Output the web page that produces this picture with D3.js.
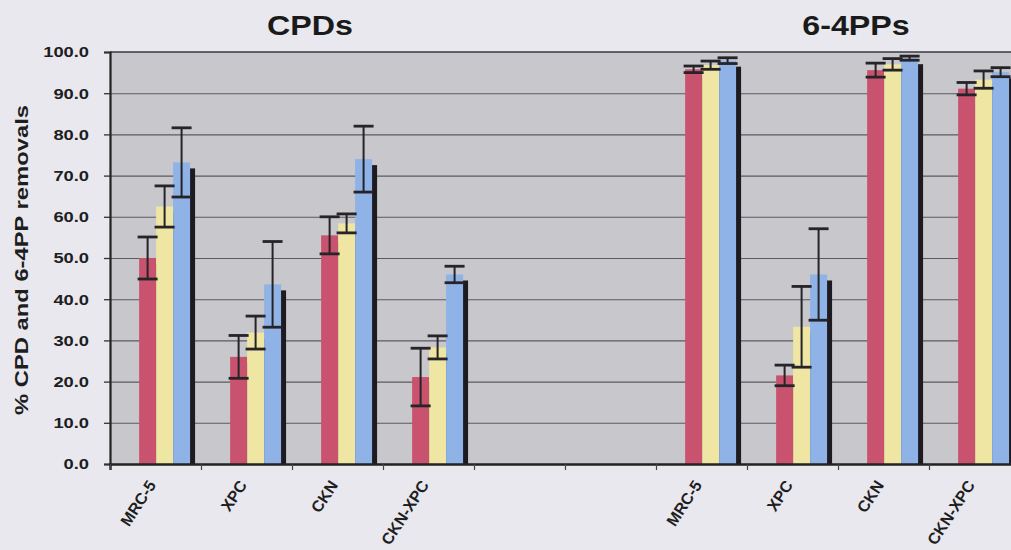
<!DOCTYPE html>
<html>
<head>
<meta charset="utf-8">
<script src="https://cdn.jsdelivr.net/npm/d3@7"></script>
<style>
  html, body { margin: 0; padding: 0; background: #e8e8ee; }
  svg { display: block; }
  text { font-family: "Liberation Sans", Arial, sans-serif; }
</style>
</head>
<body>
<svg id="chart" width="1011" height="550"></svg>
<script>
// Panel titles and cell lines
const panels = ["CPDs", "6-4PPs"];
const cellLines = ["MRC-5", "XPC", "CKN", "CKN-XPC"];
// Ten slots along the x axis: CPDs, two empty slots, then 6-4PPs
const slotLabels = ["MRC-5", "XPC", "CKN", "CKN-XPC", "", "", "MRC-5", "XPC", "CKN", "CKN-XPC"];
const panelSlots = [[0, 1, 2, 3], [6, 7, 8, 9]];

const seriesKeys = ["red", "yellow", "blue"];
const seriesColors = ["#c9536f", "#eee6a2", "#8fb3e6"];

// % removal, CPDs
const cpdRed = [50.0, 26.0, 55.5, 21.1];
const cpdRedErr = [5.1, 5.2, 4.5, 7.0];
const cpdYellow = [62.5, 31.9, 58.4, 28.3];
const cpdYellowErr = [5.0, 4.0, 2.3, 2.8];
const cpdBlue = [73.2, 43.6, 74.0, 46.0];
const cpdBlueErr = [8.4, 10.4, 8.0, 2.0];

// % removal, 6-4PPs
const ppRed = [95.8, 21.5, 95.6, 91.1];
const ppRedErr = [0.8, 2.5, 1.7, 1.5];
const ppYellow = [96.8, 33.3, 97.0, 93.3];
const ppYellowErr = [1.0, 9.8, 1.4, 2.1];
const ppBlue = [97.9, 46.0, 98.5, 95.1];
const ppBlueErr = [0.7, 11.1, 0.5, 1.1];

const yTicks = [0, 10, 20, 30, 40, 50, 60, 70, 80, 90, 100];
const yTitle = "% CPD and 6-4PP removals";

// Build flat records for drawing
const panelData = [
  { values: [cpdRed, cpdYellow, cpdBlue], errors: [cpdRedErr, cpdYellowErr, cpdBlueErr] },
  { values: [ppRed, ppYellow, ppBlue], errors: [ppRedErr, ppYellowErr, ppBlueErr] }
];
const records = [];
panelData.forEach((p, pi) => {
  cellLines.forEach((c, ci) => {
    seriesKeys.forEach((k, si) => {
      records.push({ slot: panelSlots[pi][ci], key: k, si, value: p.values[si][ci], err: p.errors[si][ci] });
    });
  });
});

const svg = d3.select("#chart");
const W = 1011, H = 550;
const plot = { left: 110, right: 1020, top: 52, bottom: 464 };

const x = d3.scaleBand().domain(d3.range(slotLabels.length)).range([plot.left, plot.right]).padding(0);
const xs = d3.scaleBand().domain(seriesKeys).range([x.bandwidth() * 0.32, x.bandwidth() * 0.88]).padding(0);
const y = d3.scaleLinear().domain([0, 100]).range([plot.bottom, plot.top]);
const color = d3.scaleOrdinal().domain(seriesKeys).range(seriesColors);

// page
svg.append("rect").attr("width", W).attr("height", H).attr("fill", "#e8e8ee");

// plot area
svg.append("rect")
  .attr("x", plot.left).attr("y", plot.top)
  .attr("width", plot.right - plot.left).attr("height", plot.bottom - plot.top)
  .attr("fill", "#c7c7cc");

// gridlines
svg.append("g")
  .selectAll("line")
  .data(yTicks.filter(t => t > 0 && t < 100))
  .join("line")
  .attr("x1", plot.left).attr("x2", plot.right)
  .attr("y1", d => y(d) + 0.5).attr("y2", d => y(d) + 0.5)
  .attr("stroke", "#5a5a60").attr("stroke-width", 1.1);

// bar shadows
const shadowDx = 5, shadowDy = 6;
svg.append("g")
  .selectAll("rect")
  .data(records)
  .join("rect")
  .attr("x", d => x(d.slot) + xs(d.key) + shadowDx)
  .attr("y", d => y(d.value) + shadowDy)
  .attr("width", xs.bandwidth())
  .attr("height", d => Math.max(0, y(0) - y(d.value) - shadowDy))
  .attr("fill", "#1d1b20");

// bars
svg.append("g")
  .selectAll("rect")
  .data(records)
  .join("rect")
  .attr("x", d => x(d.slot) + xs(d.key))
  .attr("y", d => y(d.value))
  .attr("width", xs.bandwidth())
  .attr("height", d => y(0) - y(d.value))
  .attr("fill", d => color(d.key));

// error bars
const eb = svg.append("g").attr("stroke", "#262428").attr("fill", "none");
const capHalf = 10;
records.forEach(d => {
  const cx = x(d.slot) + xs(d.key) + xs.bandwidth() / 2;
  const yHi = y(d.value + d.err), yLo = y(d.value - d.err);
  eb.append("line").attr("x1", cx).attr("x2", cx).attr("y1", yHi).attr("y2", yLo).attr("stroke-width", 2);
  eb.append("line").attr("x1", cx - capHalf).attr("x2", cx + capHalf).attr("y1", yHi).attr("y2", yHi).attr("stroke-width", 2.8);
  eb.append("line").attr("x1", cx - capHalf).attr("x2", cx + capHalf).attr("y1", yLo).attr("y2", yLo).attr("stroke-width", 2.8);
});

// top frame line
svg.append("line").attr("x1", plot.left).attr("x2", plot.right)
  .attr("y1", plot.top).attr("y2", plot.top).attr("stroke", "#3a3a3e").attr("stroke-width", 1.6);

// y axis
const yAxis = svg.append("g")
  .attr("transform", `translate(${plot.left},0)`)
  .call(d3.axisLeft(y).tickValues(yTicks).tickFormat(d3.format(".1f")).tickSize(6).tickPadding(15));
yAxis.select(".domain").attr("stroke", "#222").attr("stroke-width", 2.2);
yAxis.selectAll(".tick line").attr("stroke", "#333").attr("stroke-width", 1.3);
yAxis.selectAll(".tick text")
  .attr("fill", "#1e1e1e")
  .style("font-size", "15px").style("font-weight", "bold")
  .each(function () {
    const n = this.getComputedTextLength();
    d3.select(this).attr("textLength", n * 1.22).attr("lengthAdjust", "spacingAndGlyphs");
  });

// x axis (ticks at slot boundaries)
const xb = d3.scaleLinear().domain([0, slotLabels.length]).range([plot.left, plot.right]);
const xAxis = svg.append("g")
  .attr("transform", `translate(0,${plot.bottom})`)
  .call(d3.axisBottom(xb).tickValues(d3.range(0, slotLabels.length + 1)).tickSize(6).tickFormat(""));
xAxis.select(".domain").attr("stroke", "#222").attr("stroke-width", 2.4);
xAxis.selectAll(".tick line").attr("stroke", "#444").attr("stroke-width", 1.2);

// category labels
svg.append("g")
  .selectAll("text")
  .data(slotLabels.map((l, i) => ({ l, i })).filter(d => d.l))
  .join("text")
  .attr("transform", d => `translate(${x(d.i) + x.bandwidth() / 2 + 1},${plot.bottom + 21}) rotate(-57)`)
  .attr("text-anchor", "end")
  .attr("fill", "#1e1e1e")
  .style("font-size", "16px").style("font-weight", "bold")
  .text(d => d.l);

// panel titles
panels.forEach((p, pi) => {
  const s = panelSlots[pi];
  const cx = (x(s[0]) + x(s[s.length - 1]) + x.bandwidth()) / 2 + 18;
  const t = svg.append("text")
    .attr("x", cx).attr("y", 35)
    .attr("text-anchor", "middle")
    .attr("fill", "#1a1a1a")
    .style("font-size", "28px").style("font-weight", "bold")
    .text(p);
  const n = t.node().getComputedTextLength();
  t.attr("textLength", n * 1.15).attr("lengthAdjust", "spacingAndGlyphs");
});

// y axis title
svg.append("text")
  .attr("transform", `translate(28,${(plot.top + plot.bottom) / 2 + 2}) rotate(-90)`)
  .attr("text-anchor", "middle")
  .attr("fill", "#1e1e1e")
  .style("font-size", "18px").style("font-weight", "bold")
  .attr("textLength", 310).attr("lengthAdjust", "spacingAndGlyphs")
  .text(yTitle);
</script>
</body>
</html>
